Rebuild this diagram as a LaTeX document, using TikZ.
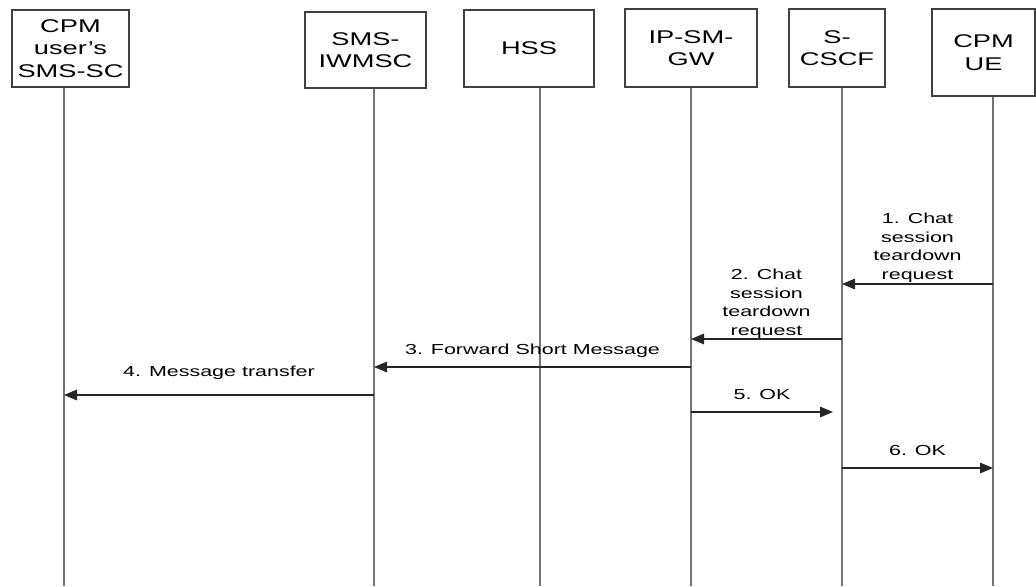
\documentclass[tikz,border=0pt]{standalone}
\usepackage{fontspec}
\setmainfont[FakeStretch=1.48]{Liberation Sans}
\usetikzlibrary{arrows.meta}
\tikzset{
  ent/.style={draw=black!75,line width=0.6pt,align=center,inner sep=0pt,font=\fontsize{9.2}{11.2}\selectfont},
  life/.style={draw=black!55,line width=0.6pt},
  msg/.style={draw=black!85,line width=0.6pt,-{Triangle[length=6.5pt,width=5.3pt]}},
  lbl/.style={align=center,inner sep=0pt,font=\fontsize{7.25}{9.3}\selectfont}
}
\begin{document}
\begin{tikzpicture}[x=0.5pt,y=-0.5pt]
\useasboundingbox (0,0) rectangle (1036,586);
\node[ent,minimum width=58.5pt,minimum height=38.5pt] (sc) at (70.5,48.5) {CPM\\user’s\\SMS-SC};
\node[ent,minimum width=60.5pt,minimum height=38pt] (iw) at (365.5,50) {SMS-\\IWMSC};
\node[ent,minimum width=65pt,minimum height=38.5pt] (hss) at (529,48.5) {HSS};
\node[ent,minimum width=66pt,minimum height=39pt] (gw) at (691,48) {IP-SM-\\GW};
\node[ent,minimum width=48pt,minimum height=39pt] (cscf) at (837,48) {S-\\CSCF};
\node[ent,minimum width=51.5pt,minimum height=43.5pt] (ue) at (983.5,52.5) {CPM\\UE};
\coordinate (scL) at (64,586);
\coordinate (iwL) at (374,586);
\coordinate (hssL) at (540,586);
\coordinate (gwL) at (691,586);
\coordinate (cscfL) at (842,586);
\coordinate (ueL) at (993,586);
\foreach \n in {sc,iw,hss,gw,cscf,ue}
{ \draw[life] (\n L |- \n.south)--(\n L);
}
\draw[msg] (ueL |- 0,284)--(cscfL |- 0,284) node[lbl,midway,above=0.5pt] {1. Chat\\session\\teardown\\request};
\draw[msg] (cscfL |- 0,339)--(gwL |- 0,339) node[lbl,midway,above=0pt] {2. Chat\\session\\teardown\\request};
\draw[msg] (gwL |- 0,367)--(iwL |- 0,367) node[lbl,midway,above=4.5pt] {3. Forward Short Message};
\draw[msg] (iwL |- 0,395)--(scL |- 0,395) node[lbl,midway,above=7.5pt] {4. Message transfer};
\draw[msg,shorten >=4.5pt] (gwL |- 0,412)--(cscfL |- 0,412) node[lbl,midway,above=6pt,xshift=-2.25pt] {5. OK};
\draw[msg] (cscfL |- 0,468)--(ueL |- 0,468) node[lbl,midway,above=6pt] {6. OK};
\end{tikzpicture}
\end{document}
